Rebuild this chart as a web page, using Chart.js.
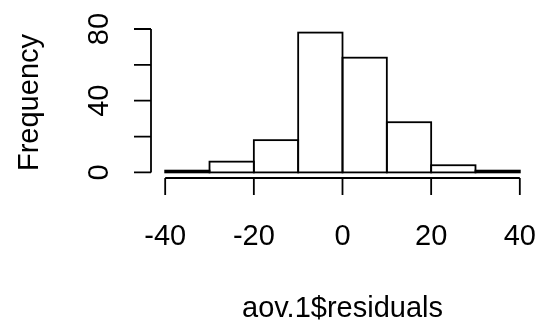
<!DOCTYPE html>
<html>
<head>
<meta charset="utf-8">
<script src="https://cdn.jsdelivr.net/npm/chart.js@4/dist/chart.umd.min.js"></script>
<style>
  html, body { margin: 0; padding: 0; background: #fff; }
  #wrap { width: 538px; height: 322px; }
</style>
</head>
<body>
<div id="wrap"><canvas id="hist" width="538" height="322"></canvas></div>
<script>
// histogram bins (width 10) and their counts
var bin_starts = [-40, -30, -20, -10, 0, 10, 20, 30];
var counts = [1, 6, 18, 78, 64, 28, 4, 1];
var bin_width = 10;
var x_ticks = [-40, -20, 0, 20, 40];
var y_ticks = [0, 20, 40, 60, 80];
var y_tick_labels = ['0', '', '40', '', '80'];
var x_title = 'aov.1$residuals';
var y_title = 'Frequency';

// base-graphics style: plot region padded 4% past the data range
var x_min = -40, x_max = 40;
var y_top = Math.max.apply(null, counts);
var x_pad = (x_max - x_min) * 0.04;
var y_pad = y_top * 0.04;

var points = [];
for (i = 0; i < bin_starts.length; i++) {
  points.push({ x: bin_starts[i] + bin_width / 2, y: counts[i] });
}

var font = '29px "Liberation Sans", Arial, sans-serif';
var line_w = 1.8;

// outlines each bar on its edges so neighbouring bars share one line
var barOutline = {
  id: 'barOutline',
  afterDatasetsDraw: function (chart) {
    var ctx = chart.ctx;
    var bars = chart.getDatasetMeta(0).data;
    ctx.save();
    ctx.strokeStyle = '#000';
    ctx.lineWidth = line_w;
    bars.forEach(function (bar) {
      var p = bar.getProps(['x', 'y', 'base', 'width'], true);
      ctx.strokeRect(p.x - p.width / 2, p.y, p.width, p.base - p.y);
    });
    ctx.restore();
  }
};

// draws the detached axes, tick labels and axis titles
var rAxes = {
  id: 'rAxes',
  afterDraw: function (chart) {
    var ctx = chart.ctx;
    var xs = chart.scales.x;
    var ys = chart.scales.y;
    var area = chart.chartArea;
    var tick = 17;
    ctx.save();
    ctx.strokeStyle = '#000';
    ctx.fillStyle = '#000';
    ctx.lineWidth = line_w;
    ctx.font = font;

    // x axis
    var yb = area.bottom;
    ctx.beginPath();
    ctx.moveTo(xs.getPixelForValue(x_ticks[0]), yb);
    ctx.lineTo(xs.getPixelForValue(x_ticks[x_ticks.length - 1]), yb);
    x_ticks.forEach(function (v) {
      var px = xs.getPixelForValue(v);
      ctx.moveTo(px, yb);
      ctx.lineTo(px, yb + tick);
    });
    ctx.stroke();
    ctx.textAlign = 'center';
    ctx.textBaseline = 'alphabetic';
    x_ticks.forEach(function (v) {
      ctx.fillText(String(v), xs.getPixelForValue(v), 245);
    });

    // y axis
    var xl = area.left;
    ctx.beginPath();
    ctx.moveTo(xl, ys.getPixelForValue(y_ticks[0]));
    ctx.lineTo(xl, ys.getPixelForValue(y_ticks[y_ticks.length - 1]));
    y_ticks.forEach(function (v) {
      var py = ys.getPixelForValue(v);
      ctx.moveTo(xl, py);
      ctx.lineTo(xl - tick, py);
    });
    ctx.stroke();
    y_ticks.forEach(function (v, k) {
      if (!y_tick_labels[k]) return;
      ctx.save();
      ctx.translate(108, ys.getPixelForValue(v));
      ctx.rotate(-Math.PI / 2);
      ctx.fillText(y_tick_labels[k], 0, 0);
      ctx.restore();
    });

    // titles
    ctx.fillText(x_title, (area.left + area.right) / 2, 317);
    ctx.save();
    ctx.translate(38, (area.top + area.bottom) / 2);
    ctx.rotate(-Math.PI / 2);
    ctx.fillText(y_title, 0, 0);
    ctx.restore();
    ctx.restore();
  }
};

var ctx = document.getElementById('hist').getContext('2d');
var histChart = new Chart(ctx, {
  type: 'bar',
  data: {
    datasets: [{
      data: points,
      backgroundColor: '#fff',
      borderWidth: 0,
      barPercentage: 1,
      categoryPercentage: 1
    }]
  },
  options: {
    responsive: false,
    animation: false,
    layout: { padding: { left: 151, right: 4, top: 27, bottom: 144 } },
    plugins: { legend: { display: false }, tooltip: { enabled: false } },
    scales: {
      x: { type: 'linear', display: false, offset: false, min: x_min - x_pad, max: x_max + x_pad },
      y: { display: false, min: -y_pad, max: y_top + y_pad }
    }
  },
  plugins: [barOutline, rAxes]
});
</script>
</body>
</html>
